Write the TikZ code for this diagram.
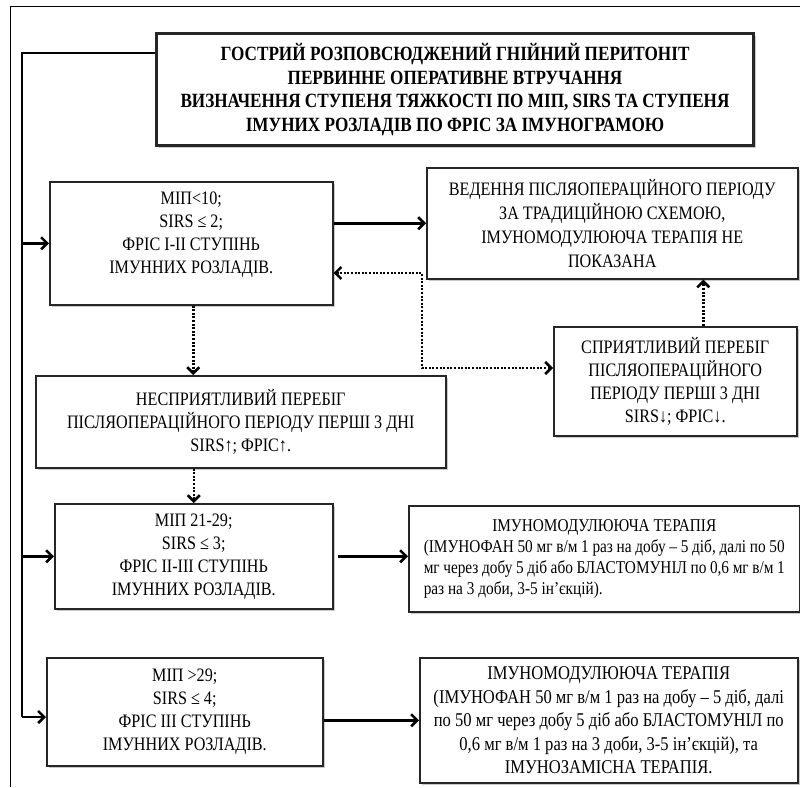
\documentclass[tikz,border=0pt]{standalone}
\usepackage{fontspec}
\setmainfont{Liberation Serif}[FakeStretch=0.85]
\usetikzlibrary{arrows.meta,shadows}
\begin{document}
\begin{tikzpicture}[x=1pt,y=-1pt,
  box/.style={draw=black!85,line width=1.5pt,fill=white,anchor=north west,inner sep=0pt,align=center,
    drop shadow={shadow xshift=2pt,shadow yshift=-2.5pt,opacity=0.3,fill=black!70}},
  bigbox/.style={box,line width=3pt},
  txt/.style={font=\fontsize{19}{23}\selectfont},
  conn/.style={line width=2.6pt,-{Straight Barb[length=6pt,width=12pt]}},
  plain/.style={line width=2.6pt},
  dotconn/.style={line width=2.5pt,dash pattern=on 2pt off 1.6pt,-{Straight Barb[length=6pt,width=12pt]}},
  frame/.style={line width=0.9pt}]
\useasboundingbox (0,0) rectangle (800,787);
% outer frame
\coordinate (fr1) at (10,787);
\coordinate (fr2) at (10,6);
\coordinate (fr3) at (800,6);
\draw[frame] (fr1) -- (fr2) -- (fr3);
% boxes
\node[bigbox,minimum width=597pt,minimum height=112pt,font=\bfseries\fontsize{20.2}{23.5}\selectfont] (top) at (155,32)
 {ГОСТРИЙ РОЗПОВСЮДЖЕНИЙ ГНІЙНИЙ ПЕРИТОНІТ\\ПЕРВИННЕ ОПЕРАТИВНЕ ВТРУЧАННЯ\\ВИЗНАЧЕННЯ СТУПЕНЯ ТЯЖКОСТІ ПО МІП, SIRS ТА СТУПЕНЯ\\ІМУНИХ РОЗЛАДІВ ПО ФРІС ЗА ІМУНОГРАМОЮ};
\node[box,txt,minimum width=283pt,minimum height=123pt] (b1) at (49,181)
 {МІП<10;\\SIRS ≤ 2;\\ФРІС І-ІІ СТУПІНЬ\\ІМУННИХ РОЗЛАДІВ.\\[-8pt]\strut};
\node[box,minimum width=371pt,minimum height=111pt,font=\fontsize{19}{24}\selectfont] (ved) at (426,167)
 {ВЕДЕННЯ ПІСЛЯОПЕРАЦІЙНОГО ПЕРІОДУ\\ЗА ТРАДИЦІЙНОЮ СХЕМОЮ,\\ІМУНОМОДУЛЮЮЧА ТЕРАПІЯ НЕ\\ПОКАЗАНА};
\node[box,txt,minimum width=410pt,minimum height=92pt] (nes) at (35,375)
 {НЕСПРИЯТЛИВИЙ ПЕРЕБІГ\\ПІСЛЯОПЕРАЦІЙНОГО ПЕРІОДУ ПЕРШІ 3 ДНІ\\SIRS↑; ФРІС↑.};
\node[box,txt,minimum width=243pt,minimum height=109pt] (spr) at (553,326)
 {СПРИЯТЛИВИЙ ПЕРЕБІГ\\ПІСЛЯОПЕРАЦІЙНОГО\\ПЕРІОДУ ПЕРШІ 3 ДНІ\\SIRS↓; ФРІС↓.};
\node[box,txt,minimum width=278pt,minimum height=105pt] (b3) at (54,503)
 {МІП 21-29;\\SIRS ≤ 3;\\ФРІС ІІ-ІІІ СТУПІНЬ\\ІМУННИХ РОЗЛАДІВ.};
\node[box,minimum width=391pt,minimum height=106pt,align=left,font=\fontsize{18}{21}\selectfont] (t1) at (408,505)
 {\makebox[361pt][c]{ІМУНОМОДУЛЮЮЧА ТЕРАПІЯ}\\
  \makebox[361pt][s]{(ІМУНОФАН 50 мг в/м 1 раз на добу – 5 діб, далі по 50}\\
  \makebox[361pt][s]{мг через добу 5 діб або БЛАСТОМУНІЛ по 0,6 мг в/м 1}\\
  \makebox[361pt][l]{раз на 3 доби, 3-5 ін’єкцій).}};
\node[box,txt,minimum width=276pt,minimum height=108pt] (b4) at (46,657)
 {МІП >29;\\SIRS ≤ 4;\\ФРІС ІІІ СТУПІНЬ\\ІМУННИХ РОЗЛАДІВ.};
\node[box,minimum width=378pt,minimum height=125pt,font=\fontsize{19.5}{23.5}\selectfont] (t2) at (419,657)
 {ІМУНОМОДУЛЮЮЧА ТЕРАПІЯ\\(ІМУНОФАН 50 мг в/м 1 раз на добу – 5 діб, далі\\по 50 мг через добу 5 діб або БЛАСТОМУНІЛ по\\0,6 мг в/м 1 раз на 3 доби, 3-5 ін’єкцій), та\\ІМУНОЗАМІСНА ТЕРАПІЯ.};
% main spine
\coordinate (sp1) at (22,53);
\coordinate (sp2) at (22,717);
\draw[plain] ([yshift=-21pt]top.north west) -- (sp1) -- (sp2);
\draw[conn] (sp1 |- b1.west) -- (b1.west);
\draw[conn] (sp1 |- b3.west) -- (b3.west);
\draw[conn] (sp2) -- (sp2 -| b4.west);
% solid arrows right
\draw[conn] (b1.east |- ved.west) -- (ved.west);
\draw[conn] ([xshift=4pt]b3.east) -- (b3.east -| t1.west);
\draw[conn] (t2.west -| b4.east) -- (t2.west);
% dotted
\coordinate (d1) at (422,273);
\coordinate (d2) at (422,368);
\draw[dotconn,{Straight Barb[length=6pt,width=12pt]}-{Straight Barb[length=6pt,width=12pt]}] (b1.east |- d1) -- (d1) -- (d2) -- (d2 -| spr.west);
\coordinate (s1) at ([xshift=28pt]spr.north);
\draw[dotconn] (s1) -- (s1 |- ved.south);
\draw[dotconn] ([xshift=2pt]b1.south) -- ([xshift=2pt]b1.south |- nes.north);
\draw[dotconn] (b3.north |- nes.south) -- (b3.north);
\end{tikzpicture}
\end{document}
